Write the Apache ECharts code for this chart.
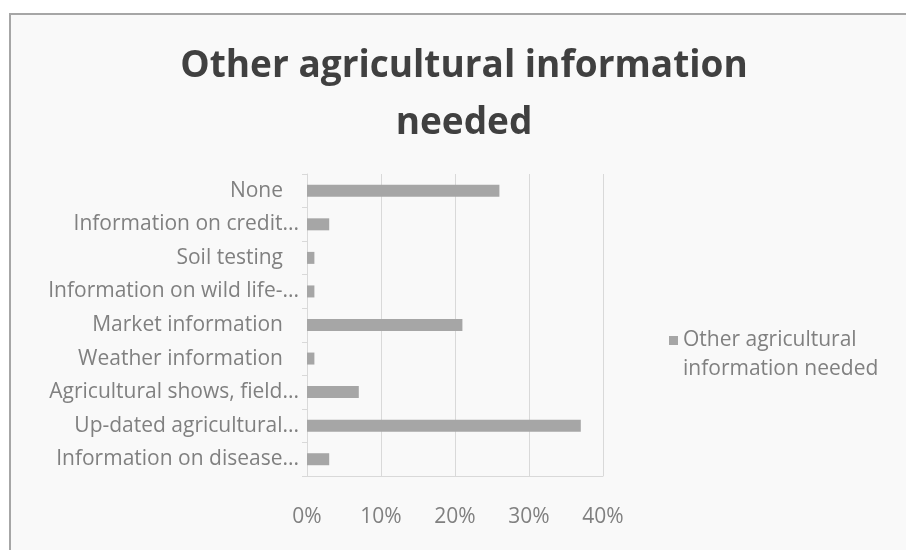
<!DOCTYPE html>
<html>
<head>
<meta charset="utf-8">
<script src="https://cdn.jsdelivr.net/npm/echarts@6/dist/echarts.min.js"></script>
<style>
  html, body { margin: 0; padding: 0; background: #ffffff; }
  #chart { width: 906px; height: 550px; }
</style>
</head>
<body>
<div id="chart"></div>
<script>
// Categories listed top to bottom as they appear on the axis
const categories = [
  'None',
  'Information on credit...',
  'Soil testing',
  'Information on wild life-...',
  'Market information',
  'Weather information',
  'Agricultural shows, field...',
  'Up-dated agricultural...',
  'Information on disease...'
];
// Share of respondents, in percent
const values = [26, 3, 1, 1, 21, 1, 7, 37, 3];
const seriesName = 'Other agricultural information needed';
const xTicks = [0, 10, 20, 30, 40];

const FONT = '"Open Sans", Lato, sans-serif';
const LABEL_SIZE = 21;
const chart = echarts.init(document.getElementById('chart'), null, { renderer: 'canvas' });

chart.setOption({
  backgroundColor: '#ffffff',
  animation: false,
  graphic: [{
    type: 'rect',
    z: -10,
    shape: { x: 10, y: 14, width: 920, height: 560 },
    style: { fill: '#f9f9f9', stroke: '#a6a6a6', lineWidth: 2 }
  }],
  title: {
    text: 'Other agricultural information\nneeded',
    top: 33,
    left: 459,
    textAlign: 'center',
    textStyle: {
      fontFamily: FONT,
      fontSize: 37,
      fontWeight: 'bold',
      color: '#404040',
      lineHeight: 57
    }
  },
  legend: {
    left: 669,
    top: 297,
    padding: 0,
    itemWidth: 9,
    itemHeight: 9,
    icon: 'rect',
    // leading blank line keeps the marker level with the first text line
    formatter: function () {
      return '\u200b\nOther agricultural\ninformation needed';
    },
    textStyle: {
      fontFamily: FONT,
      fontSize: LABEL_SIZE,
      color: '#808080',
      lineHeight: 29
    }
  },
  grid: { left: 307, right: 303, top: 174, bottom: 74 },
  xAxis: {
    type: 'value',
    min: xTicks[0],
    max: xTicks[xTicks.length - 1],
    interval: 10,
    axisLine: { show: true, lineStyle: { color: '#d9d9d9', width: 1 } },
    axisTick: { show: false },
    splitLine: { show: true, lineStyle: { color: '#d9d9d9', width: 1 } },
    axisLabel: {
      margin: 31,
      fontFamily: FONT,
      fontSize: LABEL_SIZE,
      color: '#808080',
      formatter: '{value}%'
    }
  },
  yAxis: {
    type: 'category',
    inverse: true,
    data: categories,
    axisLine: { show: true, lineStyle: { color: '#d9d9d9', width: 1 } },
    axisTick: { show: true, length: 5, lineStyle: { color: '#d9d9d9' } },
    axisLabel: {
      margin: 8,
      fontFamily: FONT,
      fontSize: LABEL_SIZE,
      color: '#808080',
      formatter: function (v) {
        return v.endsWith('...') ? v : '{full|' + v + '}';
      },
      rich: {
        full: { fontFamily: FONT, fontSize: LABEL_SIZE, color: '#808080', padding: [0, 16, 0, 0] }
      }
    }
  },
  series: [{
    name: seriesName,
    type: 'bar',
    data: values,
    barWidth: 12,
    itemStyle: { color: '#a6a6a6' }
  }]
});
</script>
</body>
</html>
